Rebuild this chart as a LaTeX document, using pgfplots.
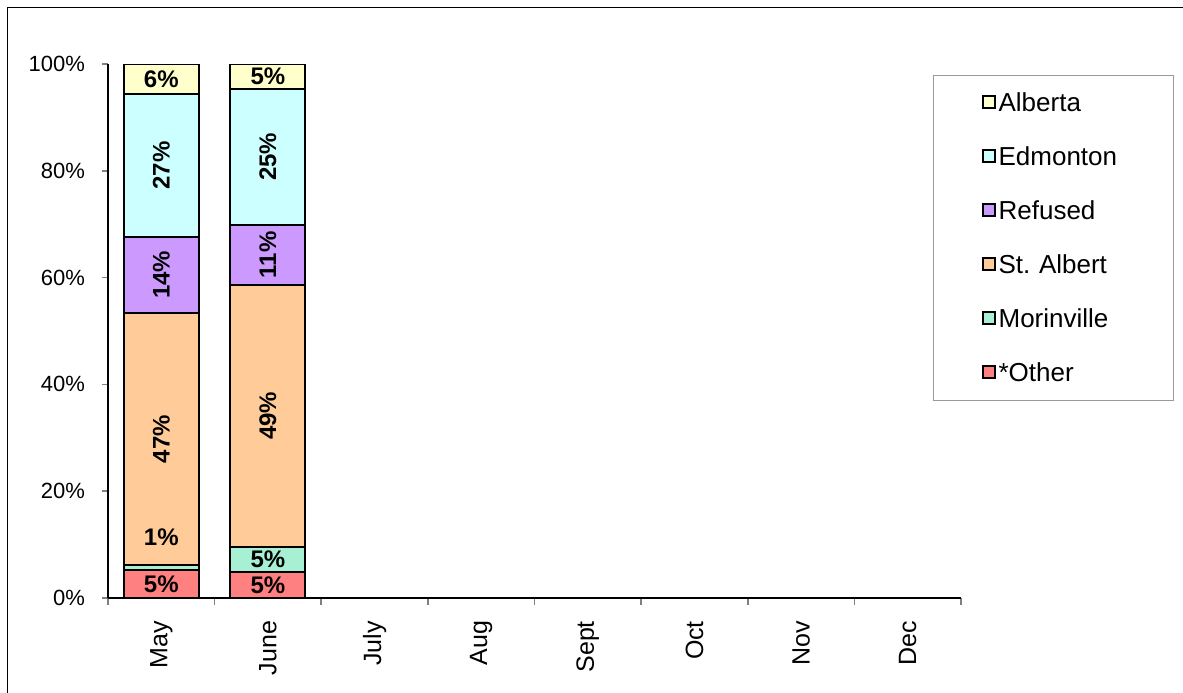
\documentclass[border=0pt]{standalone}
\usepackage{pgfplots}
\pgfplotsset{compat=1.18}
\usepackage{pgfplotstable}
\usepackage{fontspec}
\setmainfont{Liberation Sans}

\definecolor{cAlberta}{HTML}{FFFFCC}
\definecolor{cEdmonton}{HTML}{CCFFFF}
\definecolor{cRefused}{HTML}{CC99FF}
\definecolor{cStAlbert}{HTML}{FFCC99}
\definecolor{cMorinville}{HTML}{A8F0D4}
\definecolor{cOther}{HTML}{FF8080}

% x: month index (0 = May), v: share in percent
\pgfplotstableread{
x v
0 5.3
1 4.9
}\tOther
\pgfplotstableread{
x v
0 0.8
1 4.7
}\tMorinville
\pgfplotstableread{
x v
0 47.3
1 49.0
}\tStAlbert
\pgfplotstableread{
x v
0 14.2
1 11.3
}\tRefused
\pgfplotstableread{
x v
0 26.8
1 25.4
}\tEdmonton
\pgfplotstableread{
x v
0 5.6
1 4.7
}\tAlberta

% stacked bars put their labels in the middle of each segment
\pgfplotsset{
  seg/.style={fill=#1, draw=black, line width=1pt,
    visualization depends on={rawy \as \rawy},
    nodes near coords={\pgfmathprintnumber[fixed,precision=0]{\rawy}\%},
    every node near coord/.append style={anchor=center,
      font=\bfseries\fontsize{12}{14}\selectfont, text=black, inner sep=0pt}},
  upright/.style={every node near coord/.append style={rotate=90}},
  % a very thin segment gets its label lifted above it
  lifted/.style={every node near coord/.append style={yshift={(\rawy<1 ? 15.0 : 0)*1pt}}},
}

\begin{document}
\begin{tikzpicture}
\path[use as bounding box] (-54pt,-47pt) rectangle (537.5pt,299pt);
% chart frame
\draw[line width=0.6pt] (-50.25pt,-90pt) -- (-50.25pt,295.25pt) -- (620pt,295.25pt);
\begin{axis}[
  at={(0,0)}, anchor=south west,
  scale only axis, width=426.5pt, height=267pt,
  ybar stacked, bar width=37.5pt,
  xmin=-0.5, xmax=7.5, ymin=0, ymax=100,
  axis x line*=bottom, axis y line*=left,
  axis line style={black, line width=0.9pt, -},
  /pgf/number format/assume math mode=true,
  tick align=outside,
  xtick={0,...,7},
  xticklabels={May,June,July,Aug,Sept,Oct,Nov,Dec},
  minor xtick={-0.5,0.5,1.5,2.5,3.5,4.5,5.5,6.5,7.5},
  every major x tick/.append style={draw=none},
  every minor x tick/.append style={gray, line width=0.8pt},
  minor tick length=3.5pt,
  major tick length=3pt,
  every major y tick/.append style={gray, line width=0.8pt},
  xticklabel style={yshift=-5pt, rotate=90, anchor=east, font=\fontsize{12.5}{15}\selectfont},
  ytick={0,20,40,60,80,100},
  yticklabels={0\%,20\%,40\%,60\%,80\%,100\%},
  yticklabel style={font=\fontsize{11}{13}\selectfont, xshift=-5pt},
  reverse legend,
  legend cell align=left,
  legend image code/.code={\draw[#1,draw=black,line width=1pt] (0pt,-2.5pt) rectangle (6pt,3.5pt);},
  legend style={at={(0.9672,0.9794)}, anchor=north west, draw=gray!80, line width=0.6pt,
    inner xsep=24pt, inner ysep=6.75pt, row sep=13pt, column sep=0pt,
    font=\fontsize{13}{15}\selectfont,
    nodes={inner xsep=1.5pt, inner ysep=0pt, text height=11pt, text depth=3pt, text width=62pt, align=left}},
]
\addplot[seg=cOther] table[x=x, y=v] {\tOther};
\addlegendentry{*Other}
\addplot[seg=cMorinville, lifted] table[x=x, y=v] {\tMorinville};
\addlegendentry{Morinville}
\addplot[seg=cStAlbert, upright] table[x=x, y=v] {\tStAlbert};
\addlegendentry{St.\ Albert}
\addplot[seg=cRefused, upright] table[x=x, y=v] {\tRefused};
\addlegendentry{Refused}
\addplot[seg=cEdmonton, upright] table[x=x, y=v] {\tEdmonton};
\addlegendentry{Edmonton}
\addplot[seg=cAlberta] table[x=x, y=v] {\tAlberta};
\addlegendentry{Alberta}
\end{axis}
\end{tikzpicture}
\end{document}
